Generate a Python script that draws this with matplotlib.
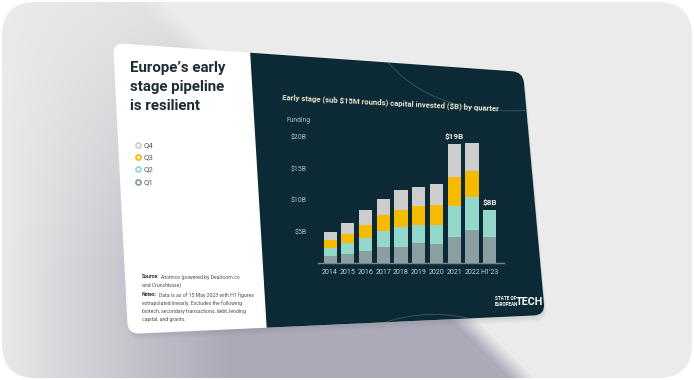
import numpy as np
import matplotlib
matplotlib.use("Agg")
import matplotlib.pyplot as plt
from matplotlib import font_manager as fm
from matplotlib.path import Path
from matplotlib.patches import PathPatch, Polygon, FancyBboxPatch

# ---------------- data ----------------
years = ["2014", "2015", "2016", "2017", "2018", "2019", "2020", "2021", "2022", "H1'23"]
q1 = [1.1, 1.4, 1.95, 2.6, 2.6, 3.1, 3.0, 4.1, 5.2, 4.2]
q2 = [1.35, 1.7, 2.05, 2.5, 3.2, 3.0, 3.1, 4.95, 5.25, 4.2]
q3 = [1.25, 1.55, 2.1, 2.45, 2.7, 3.0, 3.15, 4.6, 4.2, 0.0]
q4 = [1.3, 1.75, 2.4, 2.65, 3.05, 3.0, 3.25, 5.2, 4.35, 0.0]
series_names = ["Q1", "Q2", "Q3", "Q4"]
series_colors = ["#8b9ea2", "#93d8ca", "#f6ba00", "#cdcdcd"]
ytick_vals = [5, 10, 15, 20]
ytick_labels = ["$5B", "$10B", "$15B", "$20B"]
annot_idx = [7, 9]
annot_text = ["$19B", "$8B"]

W, H = 694, 380


def has_font(name):
    try:
        fm.findfont(fm.FontProperties(family=name), fallback_to_default=False)
        return True
    except Exception:
        return False


NARROW = has_font("Liberation Sans Narrow")
FONT = "Liberation Sans Narrow" if NARROW else "Roboto"
k = 1.0 if NARROW else 0.82

fig = plt.figure(figsize=(W / 100, H / 100), dpi=100)
fig.patch.set_facecolor("white")
bg = fig.add_axes([0, 0, 1, 1])
bg.set_xlim(0, W)
bg.set_ylim(H, 0)
bg.axis("off")
renderer = fig.canvas.get_renderer()

# ---------------- background with shadow gradient ----------------
yy, xx = np.mgrid[0:H, 0:W]
base = np.array([0xeb, 0xeb, 0xeb]) / 255
shad = np.array([0xac, 0xaa, 0xb8]) / 255
line_x = 160 + yy * 0.99
edge = np.clip((line_x - xx) / 25.0, 0, 1)
f = np.clip(xx / 230.0, 0, 1) ** 0.9 * np.clip((yy + 60) / 330.0, 0, 1) * edge
f = np.clip(f, 0, 1)
img = base[None, None, :] * (1 - f[..., None]) + shad[None, None, :] * f[..., None]
im = bg.imshow(img, extent=(0, W, H, 0), zorder=0, interpolation="bilinear")
frame = FancyBboxPatch((2, 2), W - 4, H - 4, boxstyle="round,pad=0,rounding_size=34",
                       transform=bg.transData, facecolor="none", edgecolor="none")
bg.add_patch(frame)
im.set_clip_path(frame)


def rounded_path(pts, r):
    pts = [np.array(p, float) for p in pts]
    n = len(pts)
    verts, codes = [], []
    for i in range(n):
        p = pts[i]
        a = pts[i - 1]
        b = pts[(i + 1) % n]
        ua = (a - p) / np.linalg.norm(a - p)
        ub = (b - p) / np.linalg.norm(b - p)
        A = p + r * ua
        B = p + r * ub
        verts.append(A)
        codes.append(Path.MOVETO if i == 0 else Path.LINETO)
        verts += [p, B]
        codes += [Path.CURVE3, Path.CURVE3]
    verts.append(verts[0])
    codes.append(Path.CLOSEPOLY)
    return Path(verts, codes)


card_pts = [(113, 43), (523, 72), (545, 315), (128, 334)]
for off, al in [(6, 0.06), (4, 0.06), (2, 0.06)]:
    sp = rounded_path([(x + off * 0.3, y + off) for x, y in card_pts], 12)
    bg.add_patch(PathPatch(sp, facecolor="#6e6a80", edgecolor="none", alpha=al, zorder=1))
card = PathPatch(rounded_path(card_pts, 11), facecolor="white", edgecolor="none", zorder=2)
bg.add_patch(card)
dark = Polygon([(246.7, 0), (720, 0), (720, 400), (271.5, 400)], closed=True,
               facecolor="#0c2a36", edgecolor="none", zorder=3)
bg.add_patch(dark)
dark.set_clip_path(card)

for v in ([(383, 56), (430, 118), (535, 110)], [(355, 336), (425, 296), (505, 330)]):
    pth = Path(v, [Path.MOVETO, Path.CURVE3, Path.CURVE3])
    pp = PathPatch(pth, facecolor="none", edgecolor="#5d7a84", lw=0.6, alpha=0.6, zorder=4)
    bg.add_patch(pp)
    pp.set_clip_path(card)

# ---------------- left panel texts ----------------
bg.text(130, 61, "Europe\u2019s early\nstage pipeline\nis resilient", fontsize=13.2 * k,
        fontweight="bold", family=FONT, color="#1d2b33", va="top", ha="left",
        linespacing=1.45, zorder=5)

leg_y = [145, 157, 169, 182]
for i, yv in enumerate(leg_y):
    j = 3 - i
    bg.plot(138, yv, "o", ms=3.6, mfc="white", mec=series_colors[j], mew=1.3, zorder=6)
    bg.text(143.5, yv, series_names[j], fontsize=6.2 * k + 0.6, family=FONT,
            color="#5a5f63", va="center", ha="left", zorder=6)

TXT = "#4a5055"
FS = 3.7


def label_line(xp, yp, bold, rest):
    t = bg.text(xp, yp, bold, fontsize=FS, family=FONT, fontweight="bold",
                color="#2b3338", va="center", zorder=6)
    w = t.get_window_extent(renderer).width
    bg.text(xp + w + 1.5, yp, rest, fontsize=FS, family=FONT, color=TXT,
            va="center", zorder=6)


label_line(142, 277, "Source:", "Atomico (powered by Dealroom.co")
bg.text(142, 285, "and Crunchbase)", fontsize=FS, family=FONT, color=TXT,
        va="center", zorder=6)
notes = ["Data is as of 15 May 2023 with H1 figures",
         "extrapolated linearly. Excludes the following",
         "biotech, secondary transactions, debt, lending",
         "capital, and grants."]
label_line(142, 295, "Notes:", notes[0])
for i, ln in enumerate(notes[1:]):
    bg.text(142, 303 + 8 * i, ln, fontsize=FS, family=FONT, color=TXT,
            va="center", zorder=6)

# ---------------- chart title etc ----------------
bg.text(282, 99, r"Early stage (sub \$15M rounds) capital invested (\$B) by quarter",
        fontsize=6.8 * k, fontweight="bold", family=FONT, color="#e9e4cc",
        ha="left", va="baseline", rotation=-3.0, rotation_mode="anchor", zorder=6)
bg.text(287, 121, "Funding", fontsize=5.3 * k + 0.4, family=FONT, color="#b3bcbf",
        ha="left", va="center", zorder=6)

bg.text(495, 298.5, "STATE OF", fontsize=3.3, fontweight="bold", family=FONT,
        color="white", ha="left", va="center", zorder=6)
bg.text(495, 305, "EUROPEAN", fontsize=3.3, fontweight="bold", family=FONT,
        color="white", ha="left", va="center", zorder=6)
bg.text(516, 302, "TECH", fontsize=9.5 * k, fontweight="bold", family=FONT,
        color="white", ha="left", va="center", zorder=6)

# ---------------- chart axes ----------------
ax_l, ax_r, ax_b, ax_t = 318, 504, 263, 134
ax = fig.add_axes([ax_l / W, 1 - ax_b / H, (ax_r - ax_l) / W, (ax_b - ax_t) / H])
ax.set_facecolor("none")
ax.set_zorder(10)
x = np.arange(len(years))
bottom = np.zeros(len(years))
for vals, col in zip([q1, q2, q3, q4], series_colors):
    v = np.array(vals)
    ax.bar(x, v, 0.74, bottom=bottom, color=col, edgecolor="none", zorder=3)
    bottom += v
ax.set_xlim(-0.68, 9.8)
ax.set_ylim(0, 20.5)
ax.set_yticks(ytick_vals)
ax.set_yticklabels(ytick_labels)
ax.set_xticks(x)
ax.set_xticklabels(years)
for s in ["top", "right", "left"]:
    ax.spines[s].set_visible(False)
ax.spines["bottom"].set_color("#73868b")
ax.spines["bottom"].set_linewidth(1.0)
ax.tick_params(axis="y", length=0, pad=8, labelsize=5.6 * k + 0.4, labelcolor="#b3bcbf")
ax.tick_params(axis="x", length=0, pad=4, labelsize=5.8 * k + 0.4, labelcolor="#c9d0d2")
for lab in ax.get_xticklabels() + ax.get_yticklabels():
    lab.set_family(FONT)
for i, t in zip(annot_idx, annot_text):
    ax.annotate(t, (x[i], bottom[i]), xytext=(0, 3), textcoords="offset points",
                ha="center", va="bottom", fontsize=6.8 * k + 0.3, fontweight="bold",
                family=FONT, color="#eeeae0")

fig.savefig("out.png", dpi=100, facecolor="white")
